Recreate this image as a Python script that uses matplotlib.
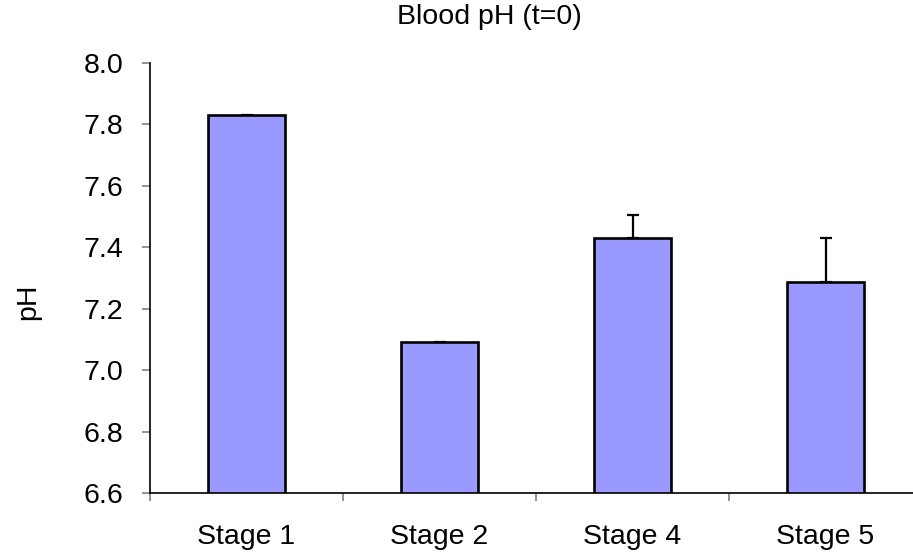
import numpy as np
import matplotlib
matplotlib.use("Agg")
import matplotlib.pyplot as plt

stages = ["Stage 1", "Stage 2", "Stage 4", "Stage 5"]
ph_values = [7.83, 7.09, 7.43, 7.285]
ph_err = [np.nan, np.nan, 0.075, 0.145]

plt.rcParams['font.family'] = ['Liberation Sans', 'DejaVu Sans']

fig = plt.figure(figsize=(9.13, 5.52), dpi=100)
ax = fig.add_axes([150 / 913, 1 - 493 / 552, 772 / 913, (493 - 62.5) / 552])

x = np.arange(len(stages))
ax.bar(x, ph_values, width=0.4, color="#9999FF", edgecolor="black", linewidth=1.9, zorder=2)
ax.errorbar(x, ph_values, yerr=[np.zeros(len(x)), ph_err], fmt="none", ecolor="black",
            elinewidth=1.6, capsize=4.3, capthick=1.6, zorder=3)

ax.set_xlim(-0.5, len(stages) - 0.5)
ax.set_ylim(6.6, 8.0)
ax.set_yticks(np.arange(6.6, 8.01, 0.2))
ax.set_yticklabels(["%.1f" % v for v in np.arange(6.6, 8.01, 0.2)])
ax.set_xticks(x)
ax.set_xticklabels(stages)
ax.set_xticks(np.arange(-0.5, len(stages)), minor=True)

for s in ["top", "right"]:
    ax.spines[s].set_visible(False)
ax.spines["left"].set_linewidth(1.2)
ax.spines["bottom"].set_linewidth(1.2)

ax.tick_params(axis="y", direction="out", length=6, width=1.2, color="#808080",
               labelsize=20.5, pad=13)
ax.tick_params(axis="x", which="major", length=0, labelsize=20.5, pad=22)
ax.tick_params(axis="x", which="minor", direction="out", length=6, width=1.2, color="#808080")

fig.text(489 / 913, 1 - 17 / 552, "Blood pH (t=0)", ha="center", va="center", fontsize=20.5)
fig.text(28 / 913, 1 - 302 / 552, "pH", ha="center", va="center", rotation=90, fontsize=20.5)

fig.savefig("out.png", dpi=100)
